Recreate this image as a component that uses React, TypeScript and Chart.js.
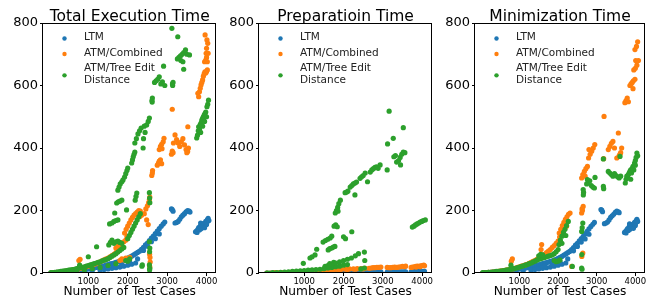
import React, { useEffect, useRef } from 'react';
import { Chart, registerables } from 'chart.js';
Chart.register(...registerables);

type Pt = [number, number];

const seriesNames = ['LTM', 'ATM/Combined', 'ATM/Tree Edit\nDistance'];
const seriesColors = ['#1f77b4', '#ff7f0e', '#2ca02c'];
const panelTitles = ['Total Execution Time', 'Preparatioin Time', 'Minimization Time'];
const xAxisTitle = 'Number of Test Cases';
const xTickValues = [1000, 2000, 3000, 4000];
const yTickValues = [0, 200, 400, 600, 800];
const xRange = [-150, 4250];
const yRange = [0, 800];

// ---- Total execution time ----
const ltmTotal: Pt[] = [
  [50,0],[100,1],[150,1],[200,2],[250,2],[300,3],[350,3],[400,4],[450,4],[500,5],[550,5],[600,6],[650,7],[700,7],[750,8],[800,9],[850,10],[900,11],[950,12],[1000,13],[1050,14],[1100,15],[1150,16],[1200,18],[1250,19],[1300,20],[1350,22],[1400,23],[1450,25],[1500,27],[1550,29],[1600,30],[1650,32],[1700,34],[1750,36],[1800,38],[1850,40],[1900,42],[1950,45],[2000,48],[2050,51],[2100,54],[2150,58],[2200,62],[2250,66],[2300,70],
  [300,1],[500,2],[700,3],[900,5],[1100,7],[1300,9],[1400,11],[1500,13],[1600,15],[1700,17],[1800,19],[1900,22],[2000,25],[2100,28],[2200,32],[1650,22],[1850,28],[2050,36],[2250,45],
  [2350,76],[2400,82],[2450,90],[2500,96],[2550,104],[2600,112],[2650,118],[2700,126],[2750,134],[2800,142],[2850,150],[2900,157],[2940,163],
  [2400,72],[2500,86],[2600,100],[2700,110],[2800,125],
  [3110,205],[3130,203],[3150,198],[3200,160],[3240,162],[3280,165],[3320,172],[3360,180],[3400,185],[3440,190],[3480,196],[3520,200],[3560,198],[3580,195],
  [3720,132],[3750,135],[3760,130],[3780,140],[3800,145],[3820,138],[3840,150],[3850,160],[3860,142],[3880,155],[3900,148],[3920,158],[3940,152],[3950,145],[3960,160],[3980,165],[4000,155],[4010,162],[4020,170],[4040,175],[4060,168],
];
const combTotal: Pt[] = [
  [50,0],[100,1],[150,1],[200,2],[250,2],[300,3],[350,4],[400,5],[450,6],[500,7],[550,8],[600,9],[650,10],[700,12],[750,13],[800,15],[850,16],[900,18],[950,20],[1000,22],[1050,24],[1100,26],[1150,28],[1200,30],[1250,33],[1300,36],[1350,39],[1400,42],[1450,45],[1500,48],[1550,52],[1600,56],[1650,60],[1700,65],[1750,70],[1800,76],[1850,82],
  [790,44],[760,40],
  [1700,80],[1750,85],[1800,90],[1850,95],[1900,100],[1950,105],[1980,117],
  [1800,40],[1850,45],[1900,42],[1950,48],[2000,40],[2050,50],
  [1920,128],[1960,140],[2000,150],[2040,160],[2080,170],[2120,178],[2160,185],[2200,190],[2240,195],[2280,200],[2320,198],[2300,180],[2350,185],
  [2420,190],[2460,205],[2500,215],[2530,225],[2550,235],[2560,243],[2480,170],[2520,155],
  [2560,20],[2570,35],[2565,50],[2555,60],
  [2610,312],[2625,320],[2630,328],
  [2750,345],[2780,352],[2800,358],[2830,362],[2860,350],
  [2800,395],[2830,405],[2860,412],[2900,420],[2920,431],[2870,398],
  [3130,524],[3110,380],[3130,390],[3150,385],
  [3160,416],[3200,442],[3240,427],[3280,416],[3320,405],[3360,420],[3400,430],[3440,410],[3480,395],[3520,389],[3540,400],[3500,385],[3525,468],
  [3780,575],[3800,564],[3820,580],[3840,591],[3860,602],[3880,610],[3900,618],[3920,630],[3940,638],[3960,644],[3980,640],[4000,645],[4020,650],
  [3950,676],[3980,681],[4000,690],[4020,676],[4040,703],[3990,703],[4000,719],[4030,735],[4010,746],[3963,762],
];
const tedTotal: Pt[] = [
  [50,1],[100,1],[150,2],[200,3],[250,4],[300,5],[350,6],[400,7],[450,8],[500,9],[550,10],[600,11],[650,12],[700,14],[750,15],[800,17],[850,18],[900,20],[950,22],[1000,24],[1050,26],[1100,28],[1150,30],[1200,32],[1250,34],[1300,36],[1350,39],[1400,41],[1450,43],[1500,46],[1550,50],[1600,54],[1650,58],[1700,62],[1750,67],[1800,72],[1850,77],[1900,82],
  [300,2],[500,4],[700,7],[900,10],[1100,14],[1300,18],[1500,24],[1700,30],
  [780,25],[1000,52],[1210,84],
  [1520,90],[1560,98],[1600,105],[1650,95],[1700,100],[1750,102],[1800,98],[1850,95],
  [1540,157],[1600,160],[1650,165],[1700,168],[1750,170],[1670,192],
  [1720,224],[1760,228],[1800,230],[1850,233],
  [1750,265],[1780,275],[1810,285],[1850,292],[1880,298],
  [1920,307],[1950,318],[1980,328],[2000,336],
  [2100,352],[2120,362],[2140,372],[2160,380],[2180,387],
  [2180,416],[2220,430],[2260,445],[2300,455],[2340,464],
  [2390,400],[2400,430],[2420,470],[2440,450],[2480,474],[2520,485],[2550,496],
  [2190,233],[2210,245],[2230,256],[1970,202],
  [2000,110],[2040,120],[2080,130],[2120,140],[2160,150],[2200,160],[2240,170],[2280,180],[2320,190],
  [1950,40],[2000,38],[2050,45],
  [2370,26],[2360,22],
  [2550,257],[2555,240],[2560,225],[2550,100],[2560,80],[2555,68],[2550,26],[2560,15],[2555,10],
  [2620,547],[2625,560],[2615,552],
  [2680,610],[2720,615],[2760,620],[2800,628],[2840,605],[2880,612],[2940,600],[2910,662],
  [3120,783],[3140,600],[3150,610],[3135,605],
  [3270,756],
  [3260,685],[3300,690],[3340,695],[3380,700],[3420,705],[3466,714],[3500,700],[3567,698],[3400,676],[3420,652],[3350,680],
  [3750,432],[3770,441],[3790,455],[3800,468],[3820,460],[3840,475],[3860,480],[3880,489],[3900,495],[3920,500],[3940,505],[3960,510],[3980,515],[4010,532],[4030,540],[4050,553],[3850,450],[3900,470],[3950,485],[4000,500],
];

// ---- Preparation time ----
const ltmPrep: Pt[] = [
  [50,0],[150,0],[250,0],[350,0],[450,0],[550,0],[650,0],[750,1],[850,1],[950,1],[1050,1],[1150,1],[1250,1],[1350,1],[1450,1],[1550,1],[1650,2],[1750,2],[1850,2],[1950,2],[2050,2],[2150,2],[2250,2],[2350,2],[2450,3],[2550,3],
  [2650,3],[2700,3],[2750,3],[2800,3],[2850,3],[2900,3],[2950,4],
  [3110,3],[3150,3],[3200,3],[3250,3],[3300,4],[3350,4],[3400,4],[3450,4],[3500,4],[3550,4],[3580,4],
  [3720,4],[3760,4],[3800,5],[3840,5],[3880,5],[3920,5],[3960,5],[4000,5],[4040,5],[4060,5],
];
const combPrep: Pt[] = [
  [50,0],[150,0],[250,1],[350,1],[450,1],[550,1],[650,2],[750,2],[850,2],[950,3],[1050,3],[1150,4],[1250,5],[1350,6],[1450,7],[1550,8],[1650,9],[1750,10],[1850,11],[1950,12],[2050,12],[2150,13],[2250,13],[2350,14],[2450,14],[2550,15],
  [1300,5],[1500,7],[1700,9],[1900,10],[2100,11],[2300,12],[2500,13],
  [2650,15],[2700,16],[2750,17],[2800,17],[2850,18],[2900,18],[2950,19],
  [3110,18],[3150,17],[3200,17],[3250,18],[3300,19],[3350,18],[3400,19],[3450,20],[3500,21],[3550,20],[3580,22],
  [3720,18],[3760,19],[3800,20],[3840,21],[3880,22],[3920,21],[3960,23],[4000,24],[4040,25],[4060,23],[3850,19],[3950,20],
];
const tedPrep: Pt[] = [
  [50,0],[100,0],[200,1],[300,1],[400,2],[500,3],[600,4],[700,5],[800,6],[900,7],[1000,8],[1100,9],[1200,10],[1300,11],[1400,12],[1500,14],[1600,16],[1700,18],[1800,20],[1900,22],[2000,25],[2100,27],
  [1530,21],[1600,24],[1650,30],[1700,28],[1750,34],[1800,32],[1900,36],[2000,40],[2100,44],[2200,48],[2300,55],[2380,62],
  [977,31],[1147,48],[1200,52],[1275,58],[1317,76],
  [1480,99],[1540,104],[1600,108],[1660,112],[1700,118],
  [1610,74],[1650,78],[1700,80],[1740,83],[1780,85],
  [1760,150],[1800,154],[1840,148],
  [1790,192],[1820,200],[1850,210],[1880,222],[1920,233],[1860,198],
  [2040,257],[2080,259],[2110,262],
  [2170,275],[2210,280],[2250,285],[2290,288],[2330,291],[2290,250],
  [2420,303],[2460,308],[2500,312],[2550,320],[2610,292],
  [2680,323],[2720,330],[2760,334],[2800,338],[2840,340],[2880,335],[2930,346],
  [3110,330],[3120,413],[3160,518],
  [3265,431],[3280,372],[3320,376],[3350,355],
  [3400,360],[3440,370],[3480,380],[3520,387],[3560,385],[3450,346],[3520,465],
  [3750,147],[3790,150],[3830,154],[3870,157],[3910,160],[3950,163],[3990,165],[4030,168],[4080,170],
  [2000,116],[2050,110],[2210,132],
  [2530,67],[2540,40],[2530,16],[2440,13],
];

// ---- Minimization time ----
const ltmMin: Pt[] = [
  [50,0],[100,1],[150,1],[200,2],[250,2],[300,3],[350,3],[400,4],[450,4],[500,5],[550,5],[600,6],[650,6],[700,7],[750,8],[800,9],[850,10],[900,11],[950,12],[1000,13],[1050,14],[1100,15],[1150,16],[1200,17],[1250,19],[1300,20],[1350,21],[1400,23],[1450,25],[1500,26],[1550,28],[1600,30],[1650,32],[1700,33],[1750,35],[1800,37],[1850,39],[1900,41],[1950,44],[2000,47],[2050,50],[2100,53],[2150,57],[2200,61],[2250,65],[2300,69],
  [300,1],[500,2],[700,3],[900,5],[1100,7],[1300,9],[1400,11],[1500,13],[1600,15],[1700,17],[1800,19],[1900,22],[2000,25],[2100,28],[2200,32],[1650,22],[1850,28],[2050,36],[2250,45],
  [2350,75],[2400,81],[2450,89],[2500,95],[2550,103],[2600,110],[2650,117],[2700,125],[2750,133],[2800,141],[2850,149],[2900,156],[2940,162],
  [2400,71],[2500,85],[2600,99],[2700,109],[2800,124],
  [3110,203],[3130,201],[3150,196],[3200,158],[3240,160],[3280,163],[3320,170],[3360,178],[3400,183],[3440,188],[3480,194],[3520,198],[3560,196],[3580,193],
  [3720,130],[3750,133],[3760,128],[3780,138],[3800,142],[3820,136],[3840,148],[3850,157],[3860,140],[3880,152],[3900,146],[3920,155],[3940,150],[3950,143],[3960,157],[3980,162],[4000,152],[4010,160],[4020,167],[4040,172],[4060,165],
];
const combMin: Pt[] = [
  [50,0],[100,1],[150,1],[200,2],[250,2],[300,3],[350,3],[400,4],[450,5],[500,6],[550,7],[600,8],[650,9],[700,10],[750,11],[800,13],[850,14],[900,16],[950,18],[1000,20],[1050,22],[1100,24],[1150,26],[1200,28],[1250,31],[1300,34],[1350,37],[1400,40],[1450,44],[1500,48],[1550,52],[1600,56],[1650,60],[1700,65],[1750,70],[1800,75],[1850,82],[1900,88],[1950,95],[2000,102],
  [816,45],[790,38],[1575,91],[1560,75],
  [2030,128],[2070,140],[2110,152],[2150,162],[2190,172],[2230,180],[2270,188],[2310,192],[2040,115],[2100,125],[2160,140],[2220,150],
  [2352,21],
  [2610,192],[2630,200],[2650,213],[2620,205],
  [2615,53],[2640,64],
  [2610,304],[2640,315],[2680,325],[2720,334],[2760,341],[2700,310],
  [2790,368],[2830,380],[2870,390],[2910,400],[2950,411],[2800,395],
  [3190,501],[3180,366],
  [3300,395],[3340,405],[3380,415],[3420,421],[3460,400],
  [3520,368],[3560,448],[3580,375],[3620,385],[3646,400],[3600,380],
  [3730,545],[3760,552],[3790,560],[3820,548],
  [3860,600],[3890,605],[3920,610],[3950,615],[3990,620],[3940,590],
  [3960,650],[4000,655],[4040,665],[4080,680],[4010,680],
  [3990,715],[4030,725],[4060,740],
];
const tedMin: Pt[] = [
  [50,1],[100,1],[150,1],[200,2],[250,2],[300,3],[350,4],[400,5],[450,5],[500,6],[550,7],[600,8],[650,9],[700,10],[750,11],[800,12],[850,14],[900,15],[950,17],[1000,19],[1050,21],[1100,23],[1150,25],[1200,27],[1250,30],[1300,32],[1350,35],[1400,38],[1450,41],[1500,44],[1550,46],[1600,48],[1650,50],[1700,52],[1750,54],[1800,56],[1850,58],[1900,62],[1950,68],[2000,75],
  [780,25],[1500,55],[1550,60],[1600,58],
  [1900,40],[1950,36],[2000,38],[2050,42],
  [2024,91],[2060,105],[2100,118],[2140,130],[2180,140],[2220,152],[2265,165],[2100,95],[2200,120],
  [2369,21],
  [2610,16],[2620,12],[2615,59],[2610,133],[2625,145],[2640,160],
  [2654,250],[2660,258],[2650,267],
  [2740,285],[2780,290],[2820,295],[2860,280],[2900,275],[2940,272],[2956,306],[2760,299],
  [3172,277],[3180,270],[3172,365],
  [3300,325],[3340,320],[3380,315],[3420,310],[3460,318],[3500,312],[3540,308],[3580,304],[3603,373],[3620,310],
  [3740,288],[3760,300],[3780,310],[3800,305],[3820,315],[3840,320],[3860,325],[3880,330],[3900,320],[3920,335],[3940,341],[3960,330],[3980,352],[4000,360],[4020,370],[4040,384],[4060,375],[4000,345],[3880,300],
];

const panelSeries: Pt[][][] = [
  [ltmTotal, combTotal, tedTotal],
  [ltmPrep, combPrep, tedPrep],
  [ltmMin, combMin, tedMin],
];

// layout (pixels) for each panel canvas
const panelBoxes = [
  { left: 0, width: 219, axisWidth: 43, padRight: 2 },
  { left: 219, width: 217, axisWidth: 40, padRight: 4 },
  { left: 436, width: 219, axisWidth: 39, padRight: 10 },
];
const CANVAS_H = 301;
const AREA_TOP = 23;
const XAXIS_H = 28;
const FONT = "'DejaVu Sans', sans-serif";

const decorPlugin = {
  id: 'decor',
  afterDraw(chart: any, _args: any, opts: any) {
    const { ctx, chartArea: a } = chart;
    ctx.save();
    ctx.strokeStyle = '#000';
    ctx.lineWidth = 1;
    ctx.strokeRect(Math.round(a.left) - 0.5, Math.round(a.top) + 0.5, Math.round(a.right - a.left), Math.round(a.bottom - a.top) - 1);
    ctx.fillStyle = '#000';
    ctx.font = `15.5px ${FONT}`;
    ctx.textAlign = 'center';
    ctx.textBaseline = 'alphabetic';
    ctx.fillText(opts.title, (a.left + a.right) / 2, a.top - 2.5);
    // legend
    ctx.font = `10.5px ${FONT}`;
    ctx.textAlign = 'left';
    ctx.textBaseline = 'middle';
    const markerX = a.left + 21.5;
    const textX = a.left + 41;
    const lineH = 11.7;
    let y = a.top + 14.5;
    seriesNames.forEach((name, i) => {
      const lines = name.split('\n');
      const blockH = (lines.length - 1) * lineH;
      ctx.fillStyle = seriesColors[i];
      ctx.beginPath();
      ctx.arc(markerX, y + blockH / 2 + 1, 2.2, 0, Math.PI * 2);
      ctx.fill();
      ctx.fillStyle = '#222';
      lines.forEach((ln, j) => ctx.fillText(ln, textX, y + j * lineH));
      y += blockH + 15.5;
    });
    ctx.restore();
  },
};

function makeConfig(idx: number) {
  const box = panelBoxes[idx];
  const series = panelSeries[idx];
  return {
    type: 'scatter' as const,
    data: {
      datasets: series.map((pts, i) => ({
        label: seriesNames[i],
        data: pts.map(([x, y]) => ({ x, y })),
        backgroundColor: seriesColors[i],
        borderColor: seriesColors[i],
        borderWidth: 0,
        pointRadius: 2.6,
        pointHoverRadius: 2.6,
        order: 3 - i,
      })),
    },
    options: {
      animation: false as const,
      responsive: false,
      devicePixelRatio: 1,
      events: [] as any[],
      layout: { padding: { left: 0, right: box.padRight, top: AREA_TOP, bottom: 0 } },
      plugins: {
        legend: { display: false },
        tooltip: { enabled: false },
        title: { display: false },
        decor: { title: panelTitles[idx] },
      },
      scales: {
        x: {
          type: 'linear' as const,
          min: xRange[0],
          max: xRange[1],
          afterBuildTicks: (s: any) => { s.ticks = xTickValues.map((v) => ({ value: v })); },
          afterFit: (s: any) => { s.height = XAXIS_H; },
          ticks: { color: '#000', font: { family: FONT, size: 8.5 }, padding: 1, maxRotation: 0, autoSkip: false, callback: (v: any) => String(v) },
          grid: { drawOnChartArea: false, drawTicks: true, tickLength: 3, color: '#000' },
          border: { display: false },
          title: { display: true, text: xAxisTitle, color: '#000', font: { family: FONT, size: 12.2 }, padding: { top: 0, bottom: 2 } },
        },
        y: {
          type: 'linear' as const,
          min: yRange[0],
          max: yRange[1],
          afterBuildTicks: (s: any) => { s.ticks = yTickValues.map((v) => ({ value: v })); },
          afterFit: (s: any) => { s.width = box.axisWidth; },
          ticks: { color: '#000', font: { family: FONT, size: 13 }, padding: 2, autoSkip: false, callback: (v: any) => String(v) },
          grid: { drawOnChartArea: false, drawTicks: true, tickLength: 3, color: '#000' },
          border: { display: false },
        },
      },
    },
    plugins: [decorPlugin],
  };
}

export default function App() {
  const refs = [useRef<HTMLCanvasElement>(null), useRef<HTMLCanvasElement>(null), useRef<HTMLCanvasElement>(null)];
  useEffect(() => {
    const charts = refs.map((r, i) => new Chart(r.current as HTMLCanvasElement, makeConfig(i) as any));
    return () => charts.forEach((c) => c.destroy());
  }, []);
  return (
    <div style={{ position: 'fixed', left: 0, top: 0, width: 655, height: CANVAS_H, background: '#fff' }}>
      {panelBoxes.map((b, i) => (
        <canvas
          key={i}
          ref={refs[i]}
          width={b.width}
          height={CANVAS_H}
          style={{ position: 'absolute', left: b.left, top: 0, width: b.width, height: CANVAS_H }}
        />
      ))}
    </div>
  );
}
